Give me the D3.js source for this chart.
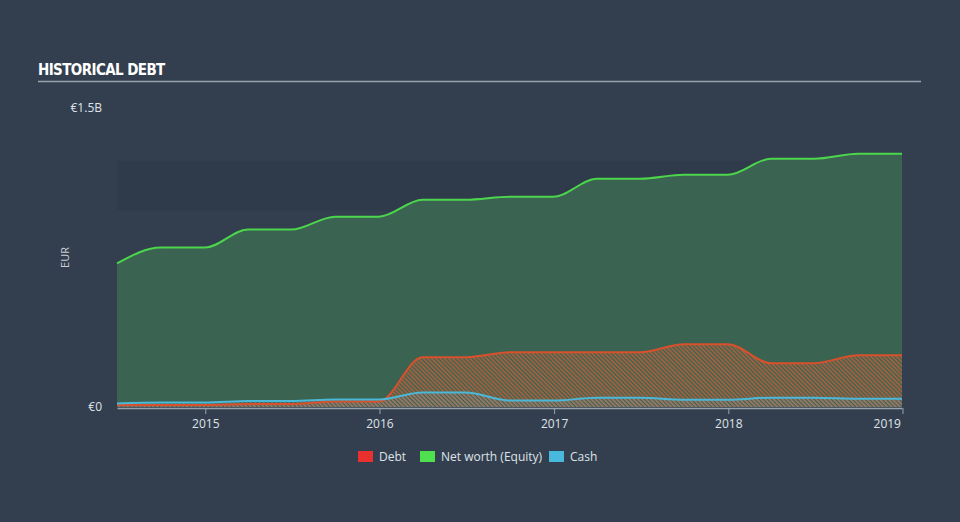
<!DOCTYPE html>
<html><head><meta charset="utf-8">
<script src="https://cdn.jsdelivr.net/npm/d3@7"></script>
<style>
html,body{margin:0;padding:0;background:#333f4f;}
svg{display:block;}
</style></head>
<body><svg id="c" width="960" height="522"></svg>
<script>
const dates = ["2014-06-30","2014-09-30","2014-12-31","2015-03-31","2015-06-30","2015-09-30","2015-12-31",
  "2016-03-31","2016-06-30","2016-09-30","2016-12-31","2017-03-31","2017-06-30","2017-09-30","2017-12-31",
  "2018-03-31","2018-06-30","2018-09-30","2018-12-31"];
const equity = [0.72,0.80,0.80,0.89,0.89,0.955,0.955,1.04,1.04,1.055,1.055,1.145,1.145,1.165,1.165,1.245,1.245,1.27,1.27];
const debt = [0.01,0.01,0.01,0.015,0.015,0.028,0.028,0.25,0.25,0.275,0.275,0.275,0.275,0.315,0.315,0.22,0.22,0.26,0.26];
const cash = [0.018,0.022,0.022,0.03,0.03,0.038,0.038,0.073,0.073,0.032,0.032,0.047,0.047,0.036,0.036,0.047,0.047,0.042,0.042];
const yTicks = [0, 1.5];
const yTickLabels = ["€0", "€1.5B"];
const xTickYears = [2015, 2016, 2017, 2018, 2019];
const band = [0.985, 1.235];
const legendItems = ["Debt", "Net worth (Equity)", "Cash"];
const legendColors = ["#e8302e", "#4fe04f", "#48b8dc"];

const svg = d3.select("#c");
const parse = d3.timeParse("%Y-%m-%d");
const dts = dates.map(parse);
const x = d3.scaleTime().domain([dts[0], dts[dts.length-1]]).range([117, 902]);
const y = d3.scaleLinear().domain([0, 1.5]).range([407, 108]);

// title
svg.append("text").attr("x", 38).attr("y", 75).text("HISTORICAL DEBT")
  .attr("fill", "#ffffff").attr("font-family", "'DejaVu Sans Condensed','Liberation Sans Narrow',sans-serif")
  .attr("font-weight", "bold").attr("font-size", 15).attr("letter-spacing", -0.6);
svg.append("line").attr("x1", 38).attr("x2", 921).attr("y1", 81.5).attr("y2", 81.5)
  .attr("stroke", "#9aa3ad").attr("stroke-width", 1.5);

// band
svg.append("rect").attr("x", x.range()[0]).attr("width", x.range()[1]-x.range()[0])
  .attr("y", y(band[1])).attr("height", y(band[0]) - y(band[1])).attr("fill", "#2f3b4b");

const defs = svg.append("defs");
function hatch(id, color, op) {
  const p = defs.append("pattern").attr("id", id).attr("patternUnits", "userSpaceOnUse")
    .attr("width", 3).attr("height", 3).attr("patternTransform", "rotate(-45)");
  p.append("rect").attr("x", 0).attr("y", 0).attr("width", 1.6).attr("height", 3)
    .attr("fill", color).attr("opacity", op);
}
hatch("hd", "#cc6038", 0.78);
hatch("hc", "#8aa0b0", 0.4);

const rows = dts.map((d, i) => ({d, e: equity[i], de: debt[i], c: cash[i]}));
const curve = d3.curveMonotoneX;

svg.append("path").datum(rows)
  .attr("d", d3.area().x(r => x(r.d)).y0(y(0)).y1(r => y(r.e)).curve(curve))
  .attr("fill", "#3a6351");
svg.append("path").datum(rows)
  .attr("d", d3.area().x(r => x(r.d)).y0(y(0)).y1(r => y(r.de)).curve(curve))
  .attr("fill", "url(#hd)");
svg.append("path").datum(rows)
  .attr("d", d3.area().x(r => x(r.d)).y0(y(0)).y1(r => y(r.c)).curve(curve))
  .attr("fill", "url(#hc)");

svg.append("path").datum(rows)
  .attr("d", d3.line().x(r => x(r.d)).y(r => y(r.e)).curve(curve))
  .attr("fill", "none").attr("stroke", "#4cd64c").attr("stroke-width", 2);
svg.append("path").datum(rows)
  .attr("d", d3.line().x(r => x(r.d)).y(r => y(r.de)).curve(curve))
  .attr("fill", "none").attr("stroke", "#d9502c").attr("stroke-width", 2);
svg.append("path").datum(rows)
  .attr("d", d3.line().x(r => x(r.d)).y(r => y(r.c)).curve(curve))
  .attr("fill", "none").attr("stroke", "#4ab8d8").attr("stroke-width", 2);

// x axis
const xa = svg.append("g").attr("transform", `translate(0,${y(0)+1})`)
  .call(d3.axisBottom(x).tickValues(xTickYears.map(yr => new Date(yr, 0, 1)))
    .tickFormat(d3.timeFormat("%Y")).tickSize(6).tickSizeOuter(0));
xa.select(".domain").attr("stroke", "#9aa3ad").attr("stroke-width", 1.5);
xa.selectAll(".tick line").attr("stroke", "#9aa3ad");
xa.selectAll("text").attr("fill", "#dfe3e8").attr("font-size", 12)
  .attr("font-family", "'Open Sans',sans-serif").attr("dy", "0.95em");
xa.selectAll(".tick").filter((d, i) => i === xTickYears.length - 1)
  .select("text").attr("text-anchor", "end").attr("x", -2);

// y axis labels
svg.selectAll(".ylab").data(yTicks).enter().append("text")
  .attr("x", 102).attr("y", d => y(d)).attr("dy", "0.35em").attr("text-anchor", "end")
  .attr("fill", "#dfe3e8").attr("font-size", 12).attr("font-family", "'Open Sans',sans-serif")
  .text((d, i) => yTickLabels[i]);
svg.append("text").attr("transform", `translate(69,${(y(0)+y(1.5))/2}) rotate(-90)`)
  .attr("text-anchor", "middle").attr("fill", "#c8ced5").attr("font-size", 11)
  .attr("font-family", "'Open Sans',sans-serif").text("EUR");

// legend
const lx = [358, 420, 549];
const lg = svg.selectAll(".lg").data(legendItems).enter().append("g")
  .attr("transform", (d, i) => `translate(${lx[i]},451)`);
lg.append("rect").attr("width", 15).attr("height", 11).attr("fill", (d, i) => legendColors[i]);
lg.append("text").attr("x", 21).attr("y", 10).text(d => d)
  .attr("fill", "#dfe3e8").attr("font-size", 12).attr("font-family", "'Open Sans',sans-serif");
</script></body></html>
